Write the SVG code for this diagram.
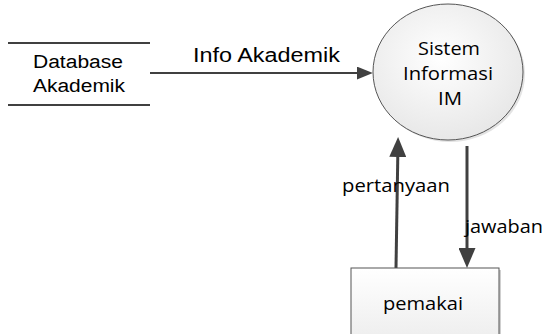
<svg xmlns="http://www.w3.org/2000/svg" width="545" height="334" viewBox="0 0 545 334">
<style>
.ar{font-family:"Liberation Sans",Arial,sans-serif;fill:#000}
.ca{font-family:"Open Sans","Noto Sans",sans-serif;fill:#000}
</style>
<defs>
<marker id="ah" viewBox="0 0 10 10" refX="7" refY="5" markerWidth="16" markerHeight="13" orient="auto" markerUnits="userSpaceOnUse" preserveAspectRatio="none">
<path d="M0,0 L10,5 L0,10 z" fill="#404040"/>
</marker>
<marker id="ah2" viewBox="0 0 10 10" refX="7" refY="5" markerWidth="20" markerHeight="17" orient="auto" markerUnits="userSpaceOnUse" preserveAspectRatio="none">
<path d="M0,0 L10,5 L0,10 z" fill="#404040"/>
</marker>
<radialGradient id="cg" cx="0.45" cy="0.4" r="0.7">
<stop offset="0" stop-color="#ffffff"/>
<stop offset="1" stop-color="#e4e4e4"/>
</radialGradient>
<linearGradient id="bg" x1="0" y1="0" x2="0" y2="1">
<stop offset="0" stop-color="#ffffff"/>
<stop offset="1" stop-color="#eeeeee"/>
</linearGradient>
</defs>
<g id="connectors">
<path d="M150,73 L368,73" stroke="#404040" stroke-width="2" fill="none" marker-end="url(#ah)"/>
<path d="M396,268 L398,143" stroke="#404040" stroke-width="3" fill="none" marker-end="url(#ah2)"/>
<path d="M467,146 L467,262" stroke="#404040" stroke-width="3" fill="none" marker-end="url(#ah2)"/>
<text class="ar" x="193" y="62" font-size="20" textLength="147" lengthAdjust="spacingAndGlyphs">Info Akademik</text>
<text class="ca" x="342" y="192" font-size="19" textLength="108" lengthAdjust="spacingAndGlyphs">pertanyaan</text>
<text class="ca" x="465" y="233" font-size="19" textLength="78" lengthAdjust="spacingAndGlyphs">jawaban</text>
</g>
<g id="database">
<line x1="8" y1="43" x2="150" y2="43" stroke="#000" stroke-width="1.5"/>
<line x1="8" y1="105" x2="150" y2="105" stroke="#000" stroke-width="1.5"/>
<text class="ar" x="33" y="68" font-size="18" textLength="90" lengthAdjust="spacingAndGlyphs">Database</text>
<text class="ar" x="33" y="92" font-size="18" textLength="92" lengthAdjust="spacingAndGlyphs">Akademik</text>
</g>
<g id="sistem">
<ellipse cx="450" cy="74" rx="75" ry="68" fill="#d0d0d0" opacity="0.6"/>
<ellipse cx="448" cy="72" rx="75" ry="68" fill="url(#cg)" stroke="#555" stroke-width="1"/>
<text class="ca" x="418" y="55" font-size="19" textLength="62" lengthAdjust="spacingAndGlyphs">Sistem</text>
<text class="ca" x="403" y="80" font-size="19" textLength="90" lengthAdjust="spacingAndGlyphs">Informasi</text>
<text class="ca" x="438" y="105" font-size="19" textLength="24" lengthAdjust="spacingAndGlyphs">IM</text>
</g>
<g id="pemakai">
<rect x="353" y="270" width="148" height="70" fill="#cfcfcf"/>
<rect x="351" y="268" width="148" height="70" fill="url(#bg)" stroke="#555" stroke-width="1"/>
<text class="ca" x="383" y="310" font-size="19" textLength="80" lengthAdjust="spacingAndGlyphs">pemakai</text>
</g>
</svg>
